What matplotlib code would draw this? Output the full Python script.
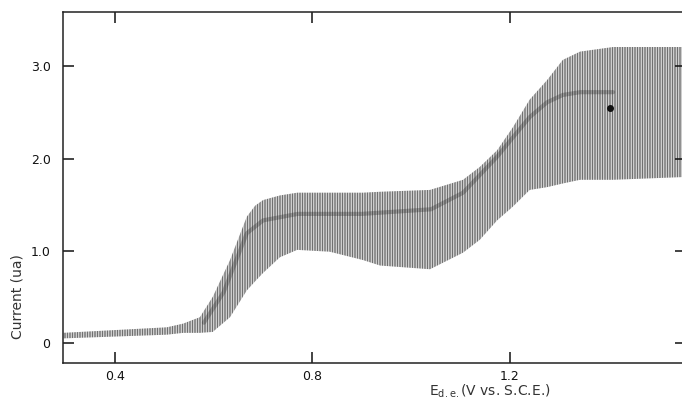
import matplotlib
matplotlib.use("Agg")
import matplotlib.pyplot as plt

# envelope of the drop oscillations (V vs SCE, microamps)
e_knots = [0.295, 0.505, 0.538, 0.572, 0.598, 0.633, 0.667, 0.684, 0.700, 0.734,
           0.769, 0.835, 0.902, 0.937, 1.038, 1.105, 1.139, 1.174, 1.206, 1.240,
           1.275, 1.307, 1.342, 1.409, 1.552]
i_upper = [0.11, 0.17, 0.21, 0.28, 0.50, 0.90, 1.37, 1.49, 1.55, 1.60,
           1.63, 1.63, 1.63, 1.64, 1.66, 1.77, 1.91, 2.09, 2.34, 2.64,
           2.85, 3.07, 3.16, 3.21, 3.21]
i_lower = [0.05, 0.09, 0.11, 0.11, 0.12, 0.28, 0.57, 0.67, 0.76, 0.93,
           1.01, 0.99, 0.90, 0.84, 0.80, 0.98, 1.12, 1.33, 1.48, 1.66,
           1.69, 1.73, 1.77, 1.77, 1.80]

# darker band where the traces pile up
e_band = [0.58, 0.62, 0.667, 0.70, 0.77, 0.90, 1.04, 1.105, 1.174, 1.206,
          1.240, 1.275, 1.307, 1.342, 1.409]
i_band = [0.22, 0.55, 1.19, 1.33, 1.40, 1.40, 1.45, 1.63, 2.02, 2.23,
          2.45, 2.61, 2.69, 2.72, 2.72]

blob_e, blob_i = [1.402], [2.55]

xticks = [0.4, 0.8, 1.2]
xlabels = ["0.4", "0.8", "1.2"]
yticks = [0, 1, 2, 3]
ylabels = ["0", "1.0", "2.0", "3.0"]

plt.rcParams["hatch.linewidth"] = 0.5

fig = plt.figure(figsize=(6.82, 4.03), dpi=100)
ax = fig.add_axes([63/682, 40/403, (686-63)/682, (363-11.5)/403])

ax.fill_between(e_knots, i_lower, i_upper, facecolor="#eeeeee",
                edgecolor="#3a3a3a", hatch="|" * 10, linewidth=0)
ax.plot(e_band, i_band, color="#222222", lw=3, alpha=0.3,
        solid_capstyle="round")
ax.plot(blob_e, blob_i, "o", color="#111111", ms=4)

ax.set_xlim(0.2947, 1.5565)
ax.set_ylim(-0.217, 3.595)
ax.set_xticks(xticks, xlabels)
ax.set_yticks(yticks, ylabels)
ax.tick_params(direction="in", top=True, right=True, length=8, width=1.1,
               labelsize=9, colors="#111111")
ax.tick_params(axis="x", pad=5)
ax.tick_params(axis="y", pad=9)
for s in ax.spines.values():
    s.set_linewidth(1.1)
    s.set_color("#222222")

fig.text(18/682, 1 - 297/403, "Current (ua)", rotation=90, ha="center",
         va="center", fontsize=10, color="#333333")
fig.text(490/682, 1 - 391/403, r"E$_{\rm d.e.}$(V vs. S.C.E.)", ha="center",
         va="center", fontsize=10, color="#333333")

fig.savefig("out.png", dpi=100)
